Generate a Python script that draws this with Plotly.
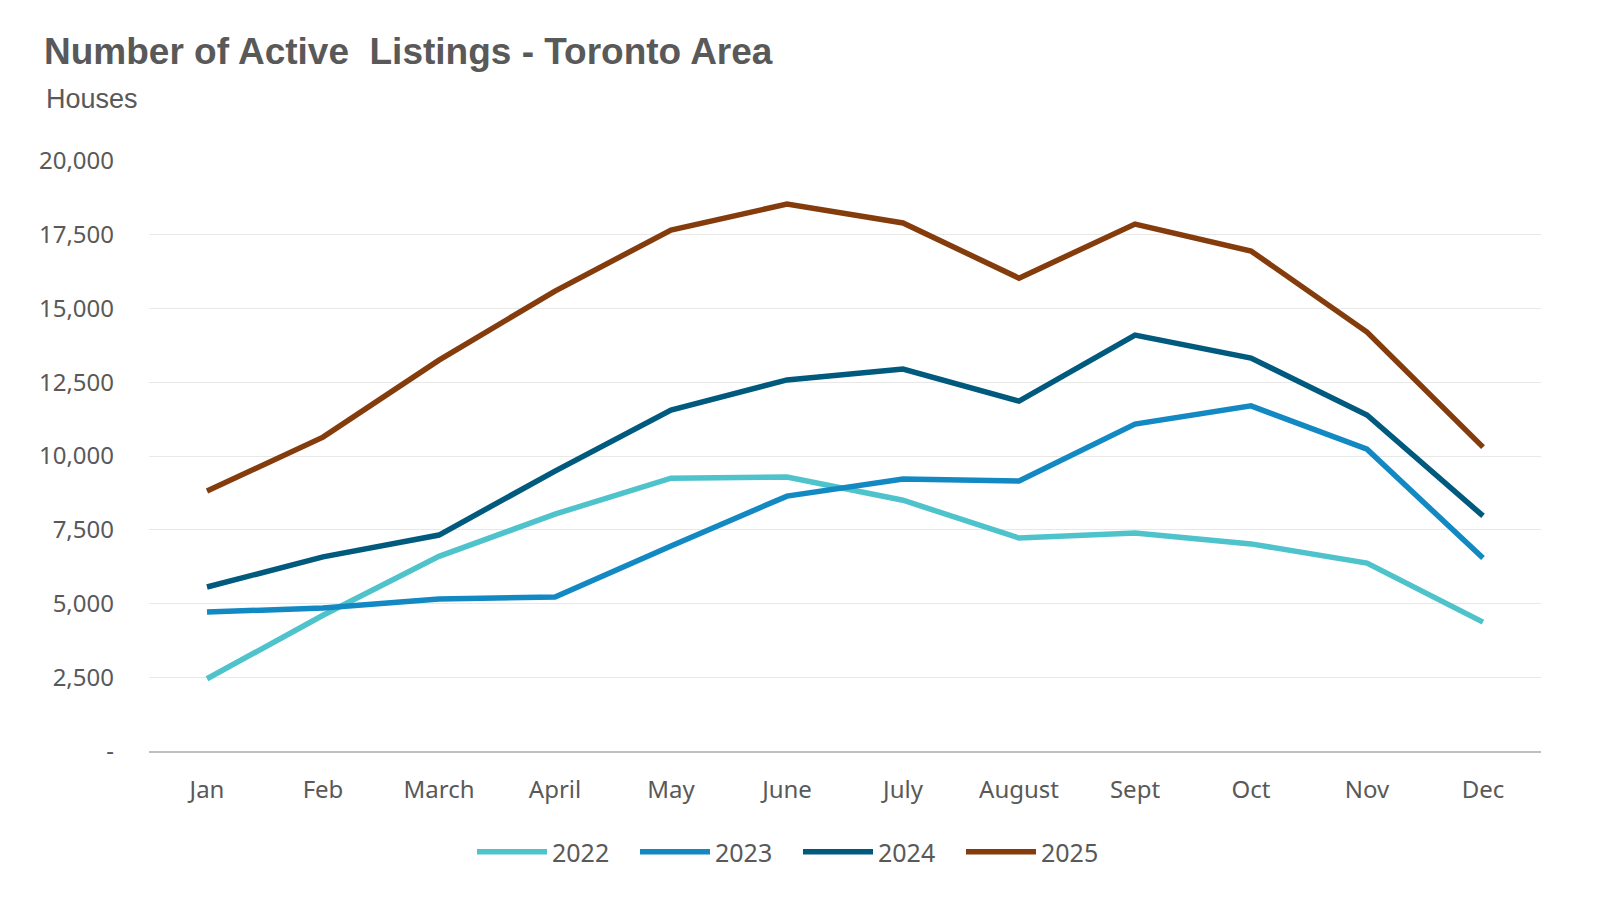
import plotly.graph_objects as go

months = ["Jan", "Feb", "March", "April", "May", "June", "July", "August", "Sept", "Oct", "Nov", "Dec"]
v2022 = [2450, 4600, 6600, 8030, 9250, 9290, 8500, 7220, 7390, 7020, 6370, 4370]
v2023 = [4710, 4850, 5150, 5220, 6950, 8640, 9220, 9150, 11080, 11700, 10230, 6540]
v2024 = [5560, 6580, 7320, 9490, 11560, 12580, 12950, 11860, 14100, 13320, 11390, 7970]
v2025 = [8810, 10640, 13250, 15590, 17660, 18540, 17900, 16030, 17860, 16950, 14200, 10300]
series_names = ["2022", "2023", "2024", "2025"]
series_colors = ["#4EC3CB", "#1289C3", "#005A7E", "#843C0C"]
ytick_vals = [0, 2500, 5000, 7500, 10000, 12500, 15000, 17500, 20000]
ytick_text = ["-", "2,500", "5,000", "7,500", "10,000", "12,500", "15,000", "17,500", "20,000"]

fig = go.Figure()
for name, vals, col in zip(series_names, [v2022, v2023, v2024, v2025], series_colors):
    fig.add_trace(go.Scatter(x=months, y=vals, name=name, mode="lines",
                             line=dict(color=col, width=5.5)))

L, R, T, B = 141, 67, 153, 166
pw = 1600 - L - R
ph = 909 - T - B

fig.update_layout(
    width=1600, height=909,
    paper_bgcolor="white", plot_bgcolor="white",
    margin=dict(l=L, r=R, t=T, b=B, autoexpand=False),
    font=dict(family="Noto Sans, Open Sans, sans-serif", color="#595959"),
    title=dict(text="<b>Number of Active  Listings - Toronto Area</b>",
               x=36/1600, xanchor="left", y=1-43/909, yanchor="middle",
               font=dict(family="Liberation Sans, Arial", size=37, color="#595959")),
    annotations=[dict(text="Houses", xref="paper", yref="paper",
                      x=(36-L)/pw, xanchor="left",
                      y=(909-B-91)/ph, yanchor="middle", showarrow=False,
                      font=dict(family="Liberation Sans, Arial", size=27, color="#595959"))],
    legend=dict(orientation="h", x=(790-L)/pw, xanchor="center", y=(909-B-844)/ph, yanchor="middle",
                font=dict(size=25, color="#595959"), itemwidth=70, traceorder="normal",
                entrywidth=78, entrywidthmode="pixels"),
    showlegend=True,
)
fig.update_xaxes(range=[-0.5, 11.5], showgrid=False, showline=True, linecolor="#BFBFBF", linewidth=1.5,
                 ticks="", tickfont=dict(size=24, color="#595959"), ticklabelstandoff=16)
fig.update_yaxes(range=[0, 20000], tickvals=ytick_vals, ticktext=ytick_text,
                 showgrid=True, gridcolor="#E8E8E8", gridwidth=1, zeroline=False,
                 showline=False, ticks="", tickfont=dict(size=24, color="#595959"),
                 ticklabelstandoff=34)

fig.write_html("out.html")
